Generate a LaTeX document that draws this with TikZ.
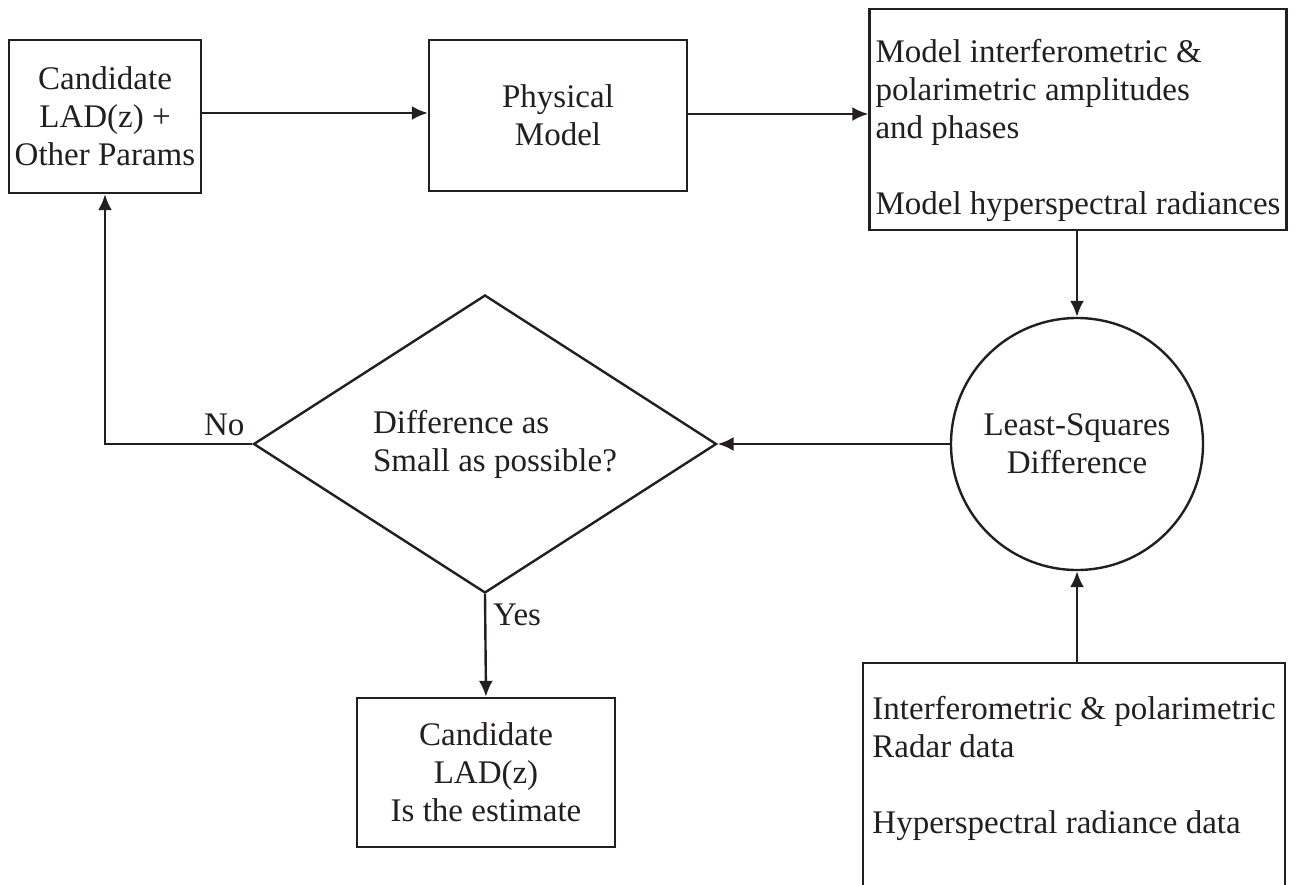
\documentclass[tikz,border=0pt]{standalone}
\usepackage{fontspec}
\setmainfont{Liberation Serif}
\usetikzlibrary{shapes.geometric,arrows.meta}
\definecolor{ink}{RGB}{35,31,32}

\begin{document}
\begin{tikzpicture}[x=0.5pt,y=-0.5pt,line width=1.2pt,draw=ink,text=ink]
				\tikzstyle{every node}=[font=\fontsize{16.5}{19}\selectfont]
				\tikzstyle{blk}=[draw=ink,rectangle,align=center,inner sep=3pt]
				\tikzstyle{txtblk}=[blk,align=left]
				\tikzstyle{arr}=[draw=ink,-{Latex[length=8pt,width=7pt]}]
				\clip (0,0) rectangle (1296,884);
				\node[blk,minimum width=95pt,minimum height=76.5pt] (cand) at (105,116.5)
					{Candidate\\LAD(z) +\\Other Params};
				\node[blk,minimum width=129pt,minimum height=75.5pt] (phys) at (558,115.5)
					{Physical\\Model};
				\node[txtblk,minimum width=208pt,minimum height=110.5pt] (mdl) at (1078,119.5)
					{\rule{0pt}{23pt}Model interferometric \&\\polarimetric amplitudes\\and phases\\\strut\\Model hyperspectral radiances};
				\node[draw=ink,circle,minimum size=126pt,align=center,inner sep=0pt] (lsq) at (1077,444)
					{Least-Squares\\Difference};
				\node[draw=ink,diamond,aspect=1.55,minimum width=231.5pt,minimum height=149pt,
					inner sep=0pt,align=left] (dec) at (485,444)
					{\hspace{10pt}Difference as\\\hspace{10pt}Small as possible?};
				\node[blk,minimum width=129pt,minimum height=74.5pt] (res) at (486,772.5)
					{Candidate\\LAD(z)\\Is the estimate};
				\node[txtblk,anchor=north,minimum width=211pt,minimum height=126pt] (dat) at (1074,662)
					{Interferometric \& polarimetric\\Radar data\\\strut\\Hyperspectral radiance data\\\strut};
				\draw[arr] (cand.east |- 0,113) -- (phys.west |- 0,113);
				\draw[arr] (phys.east |- 0,114) -- (mdl.west |- 0,114);
				\draw[arr] (lsq.north |- mdl.south) -- (lsq.north);
				\draw[arr] (lsq.west) -- (dec.east);
				\draw[arr] (dec.west) node[above left] {No} -| (cand.south);
				\draw[arr] (dec.south) -- node[right,pos=0.2] {Yes} (res.north);
				\draw[arr] (lsq.south |- dat.north) -- (lsq.south);
\end{tikzpicture}
\end{document}
